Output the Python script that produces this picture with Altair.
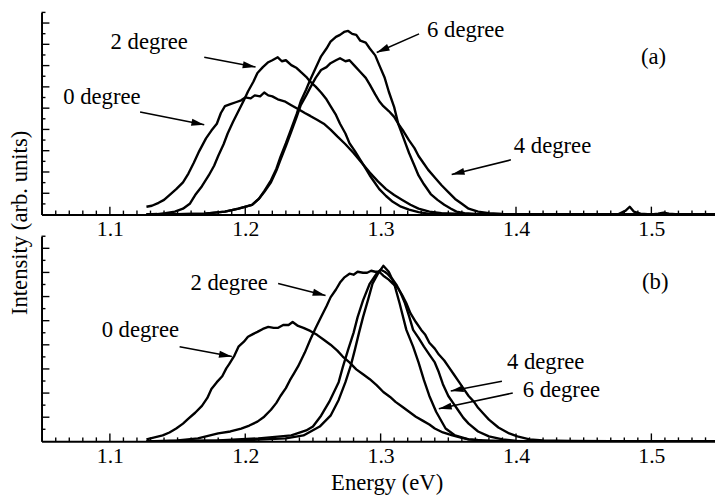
import math
import altair as alt
import pandas as pd

FONT = "Times New Roman, Liberation Serif, serif"

# ---------------- data ----------------
# Panel (a): photoluminescence spectra, energy (eV) vs intensity (arb. units)
a0_E = [1.127,1.131,1.136,1.140,1.144,1.149,1.154,1.158,1.162,1.166,1.171,1.175,1.179,1.182,1.185,1.189,1.193,1.197,1.200,1.204,1.207,1.211,1.214,1.217,1.220,1.224,1.229,1.234,1.239,1.244,1.248,1.253,1.258,1.263,1.268,1.274,1.280,1.286,1.292,1.298,1.304,1.310,1.316,1.322,1.328,1.336,1.345,1.36,1.38,1.40,1.45,1.50,1.547]
a0_I = [8,9,12,15,20,26,33,42,53,65,78,86,93,104,111,113,115,117,120,119,122,121,125,122,121,118,116,112,108,104,101,97,93,87,80,72,63,53,43,34,26,20,15,10,6,3,1.3,0.5,0.2,0,0,0,0]

a2_E = [1.127,1.135,1.141,1.148,1.154,1.159,1.163,1.168,1.173,1.177,1.180,1.184,1.187,1.191,1.195,1.199,1.202,1.206,1.209,1.213,1.217,1.220,1.224,1.227,1.230,1.234,1.238,1.241,1.245,1.248,1.252,1.256,1.260,1.263,1.267,1.270,1.274,1.277,1.281,1.285,1.289,1.292,1.296,1.299,1.304,1.309,1.315,1.321,1.328,1.335,1.345,1.36,1.40,1.45,1.50,1.547]
a2_I = [0,0.5,1.3,3,6,11,20,29,40,50,60,72,83,95,106,117,126,136,145,151,156,158,161,157,158,153,150,146,141,136,131,125,118,111,102,93,83,73,65,56,47,40,32,26,19,13,8,5,2.5,1,0.5,0.2,0,0,0,0]

a4_E = [1.127,1.15,1.17,1.185,1.195,1.205,1.210,1.214,1.219,1.223,1.226,1.230,1.234,1.238,1.241,1.245,1.248,1.252,1.256,1.260,1.263,1.267,1.270,1.274,1.277,1.281,1.285,1.289,1.292,1.296,1.299,1.302,1.306,1.310,1.313,1.317,1.321,1.325,1.328,1.332,1.335,1.340,1.345,1.350,1.355,1.360,1.365,1.372,1.38,1.39,1.40,1.42,1.45,1.50,1.547]
a4_I = [0,0.3,1,3,6,10,16,23,33,45,56,70,85,100,112,122,130,140,148,151,155,158,160,157,158,152,146,140,133,123,116,111,106,100,93,85,76,68,60,52,46,38,30,23,16,11,6,3,1.5,0.6,0.3,0,0,0,0]

a6_E = [1.127,1.15,1.17,1.185,1.195,1.205,1.210,1.214,1.219,1.223,1.226,1.230,1.234,1.238,1.241,1.245,1.248,1.252,1.256,1.260,1.263,1.267,1.270,1.273,1.276,1.279,1.282,1.285,1.289,1.292,1.296,1.299,1.303,1.306,1.310,1.313,1.317,1.321,1.325,1.328,1.332,1.337,1.342,1.347,1.352,1.356,1.362,1.37,1.38,1.40,1.45,1.475,1.481,1.484,1.487,1.492,1.50,1.505,1.509,1.513,1.52,1.547]
a6_I = [0,0.3,1,3,6,10,16,24,35,47,59,73,88,103,116,128,138,150,162,170,177,182,184,187,188,185,184,178,176,170,163,153,140,126,110,93,78,63,50,40,31,21,15,10,6,3,1.5,0.7,0.3,0,0,0,4,8,3,1,0,1,2,1,0,0]

# Panel (b)
b0_E = [1.127,1.133,1.139,1.144,1.149,1.154,1.158,1.163,1.168,1.172,1.175,1.179,1.183,1.186,1.188,1.192,1.195,1.199,1.202,1.206,1.209,1.213,1.217,1.221,1.224,1.228,1.232,1.235,1.239,1.243,1.248,1.253,1.258,1.263,1.268,1.272,1.277,1.282,1.287,1.292,1.297,1.302,1.307,1.311,1.316,1.321,1.326,1.331,1.336,1.340,1.346,1.353,1.36,1.365,1.375,1.39,1.42,1.50,1.547]
b0_I = [2,4,6,9,13,18,23,29,36,44,53,60,66,74,78,87,96,101,106,109,111,114,116,115,115,118,118,121,117,115,112,108,103,98,92,86,80,73,68,63,57,50,45,40,35,30,25,21,17,13,9,6,3.5,2,1,0.4,0,0,0]

b2_E = [1.127,1.15,1.165,1.18,1.189,1.197,1.203,1.209,1.214,1.219,1.223,1.226,1.230,1.233,1.236,1.239,1.244,1.248,1.252,1.256,1.260,1.263,1.267,1.270,1.273,1.277,1.280,1.283,1.287,1.290,1.293,1.296,1.299,1.302,1.306,1.309,1.313,1.316,1.319,1.322,1.326,1.330,1.333,1.336,1.340,1.343,1.347,1.350,1.354,1.358,1.362,1.365,1.369,1.372,1.376,1.380,1.387,1.395,1.401,1.41,1.42,1.44,1.50,1.547]
b2_I = [0,1,3,8,10,13,16,20,25,32,39,46,54,62,69,76,90,103,115,126,137,146,154,161,166,170,169,172,171,171,173,172,172,168,164,160,155,148,140,130,121,113,108,100,94,88,82,76,68,60,52,46,40,34,28,22,14,8,5,2,1,0.3,0,0]

b4_E = [1.127,1.18,1.21,1.234,1.245,1.25,1.256,1.262,1.269,1.272,1.276,1.280,1.283,1.287,1.292,1.295,1.297,1.300,1.303,1.305,1.309,1.312,1.315,1.318,1.321,1.324,1.328,1.332,1.336,1.340,1.343,1.346,1.350,1.354,1.357,1.361,1.365,1.372,1.38,1.39,1.40,1.42,1.50,1.547]
b4_I = [0,1,3,6,11,15,26,40,60,75,93,110,126,143,160,166,170,174,172,170,164,158,150,140,127,113,105,96,88,80,70,58,46,38,32,24,18,10,5,2,0.5,0,0,0]

b6_E = [1.127,1.20,1.23,1.243,1.255,1.263,1.269,1.274,1.278,1.281,1.284,1.287,1.291,1.294,1.298,1.302,1.306,1.310,1.314,1.319,1.324,1.328,1.332,1.336,1.341,1.348,1.355,1.365,1.38,1.40,1.50,1.547]
b6_I = [0,1,3,6,15,26,42,60,77,93,110,126,145,160,170,178,172,160,140,113,96,80,62,46,30,13,6,2,0.5,0,0,0]

# annotations (text baseline positions, data coordinates)
a_lab_text = ["0 degree", "2 degree", "4 degree", "6 degree", "(a)"]
a_lab_E = [1.0655, 1.1005, 1.3984, 1.3343, 1.4923]
a_lab_I = [113, 170, 63, 182, 154]
a_arr_E0 = [1.1223, 1.1697, 1.3962, 1.3284]
a_arr_I0 = [105, 161, 56, 185]
a_arr_E1 = [1.1697, 1.2076, 1.3525, 1.2971]
a_arr_I1 = [92, 151, 41, 166]

b_lab_text = ["0 degree", "2 degree", "4 degree", "6 degree", "(b)"]
b_lab_E = [1.0939, 1.1595, 1.3933, 1.4049, 1.4931]
b_lab_I = [106, 153, 73, 45, 154]
b_arr_E0 = [1.1515, 1.2243, 1.3896, 1.3976]
b_arr_I0 = [96, 160, 61, 49]
b_arr_E1 = [1.1901, 1.2593, 1.3518, 1.3430]
b_arr_I1 = [86, 148, 51, 33]

x_tick_labels = [1.1, 1.2, 1.3, 1.4, 1.5]

# ---------------- layout constants ----------------
E_DOMAIN = [1.0495, 1.547]
PLOT_W = 683
H_A, H_B = 205, 208          # plot heights (px)
YMAX_A, YMAX_B = 207, 208    # intensity range of each panel
NT_A, NT_B = 19, 17
PX_PER_EV = PLOT_W / (E_DOMAIN[1] - E_DOMAIN[0])
ARROW = "M0,0L-2,-0.55L-2,0.55Z"


def spectra(d):
    rows = []
    for name, (E, I) in d.items():
        assert len(E) == len(I), name
        rows += [{"E": e, "I": i, "series": name} for e, i in zip(E, I)]
    return pd.DataFrame(rows)


def arrows(E0, I0, E1, I1, px_per_unit):
    rows = []
    for e0, i0, e1, i1 in zip(E0, I0, E1, I1):
        dx = (e1 - e0) * PX_PER_EV
        dy = -(i1 - i0) * px_per_unit
        ang = math.degrees(math.atan2(dy, dx)) % 360
        rows.append({"x0": e0, "y0": i0, "x1": e1, "y1": i1, "ang": ang})
    return pd.DataFrame(rows)


def panel(spec, lab, arr, H, ymax, nticks, xtitle, ytitle):
    xs = alt.Scale(domain=E_DOMAIN, nice=False, zero=False)
    ys = alt.Scale(domain=[0, ymax], nice=False, zero=True)
    xax = dict(values=x_tick_labels, format=".1f", ticks=False, tickSize=0, grid=False,
               domainColor="black", domainWidth=2, labelFont=FONT, labelFontSize=22,
               labelColor="black", labelBaseline="alphabetic", labelPadding=21,
               labelFlush=False, labelOverlap=False)
    if xtitle:
        xax.update(title=xtitle, titleFont=FONT, titleFontSize=23, titleFontWeight="normal",
                   titleColor="black", titleX=350, titleY=49, titleAlign="center",
                   titleBaseline="alphabetic")
    else:
        xax.update(title=None)
    yax = dict(labels=False, ticks=False, grid=False, domainColor="black", domainWidth=2)
    if ytitle:
        yax.update(title=ytitle, titleFont=FONT, titleFontSize=23, titleFontWeight="normal",
                   titleColor="black", titleAngle=270, titleX=-15, titleY=213,
                   titleAlign="center", titleBaseline="alphabetic")
    else:
        yax.update(title=None)
    XA = alt.Axis(**xax)
    YA = alt.Axis(**yax)

    lines = alt.Chart(spec).mark_line(color="black", strokeWidth=2.4, clip=True,
                                      strokeJoin="round").encode(
        x=alt.X("E:Q", scale=xs, axis=XA),
        y=alt.Y("I:Q", scale=ys, axis=YA),
        detail="series:N", order="E:Q")

    xt = [round(1.05 + 0.01 * k, 2) for k in range(50)]
    xt_major = pd.DataFrame({"E": [v for v in xt if abs(v * 10 - round(v * 10)) < 1e-6]})
    xt_minor = pd.DataFrame({"E": [v for v in xt if abs(v * 10 - round(v * 10)) >= 1e-6]})
    step = ymax / nticks
    yt_major = pd.DataFrame({"I": [k * step for k in range(1, nticks + 1) if k % 2 == 0]})
    yt_minor = pd.DataFrame({"I": [k * step for k in range(1, nticks + 1) if k % 2 == 1]})

    def xrule(df, ln):
        return alt.Chart(df).mark_rule(color="black", strokeWidth=1.4).encode(
            x=alt.X("E:Q", scale=xs, axis=XA), y=alt.value(H), y2=alt.value(H - ln))

    def yrule(df, ln):
        return alt.Chart(df).mark_rule(color="black", strokeWidth=1.4).encode(
            y=alt.Y("I:Q", scale=ys, axis=YA), x=alt.value(0), x2=alt.value(ln))

    texts = alt.Chart(lab).mark_text(font=FONT, fontSize=23, align="left",
                                     baseline="alphabetic", color="black").encode(
        x=alt.X("E:Q", scale=xs, axis=XA), y=alt.Y("I:Q", scale=ys, axis=YA),
        text="label:N")
    shafts = alt.Chart(arr).mark_rule(color="black", strokeWidth=1.6).encode(
        x=alt.X("x0:Q", scale=xs, axis=XA), y=alt.Y("y0:Q", scale=ys, axis=YA),
        x2="x1:Q", y2="y1:Q")
    heads = alt.Chart(arr).mark_point(shape=ARROW, filled=True, color="black", opacity=1,
                                      size=170, strokeWidth=0).encode(
        x=alt.X("x1:Q", scale=xs, axis=XA), y=alt.Y("y1:Q", scale=ys, axis=YA),
        angle=alt.Angle("ang:Q", scale=None))

    return alt.layer(lines, xrule(xt_major, 8), xrule(xt_minor, 4),
                     yrule(yt_major, 8), yrule(yt_minor, 4),
                     texts, shafts, heads).properties(width=PLOT_W, height=H)


spec_a = spectra({"0": (a0_E, a0_I), "2": (a2_E, a2_I), "4": (a4_E, a4_I), "6": (a6_E, a6_I)})
spec_b = spectra({"0": (b0_E, b0_I), "2": (b2_E, b2_I), "4": (b4_E, b4_I), "6": (b6_E, b6_I)})
lab_a = pd.DataFrame({"E": a_lab_E, "I": a_lab_I, "label": a_lab_text})
lab_b = pd.DataFrame({"E": b_lab_E, "I": b_lab_I, "label": b_lab_text})
arr_a = arrows(a_arr_E0, a_arr_I0, a_arr_E1, a_arr_I1, H_A / YMAX_A)
arr_b = arrows(b_arr_E0, b_arr_I0, b_arr_E1, b_arr_I1, H_B / YMAX_B)

top = panel(spec_a, lab_a, arr_a, H_A, YMAX_A, NT_A, None, "Intensity (arb. units)")
bottom = panel(spec_b, lab_b, arr_b, H_B, YMAX_B, NT_B, "Energy (eV)", None)

chart = alt.vconcat(top, bottom, spacing=22, bounds="flush").properties(
    padding=0).configure_view(strokeWidth=0)

chart.save("out.html", embed_options={"renderer": "svg", "actions": False})
